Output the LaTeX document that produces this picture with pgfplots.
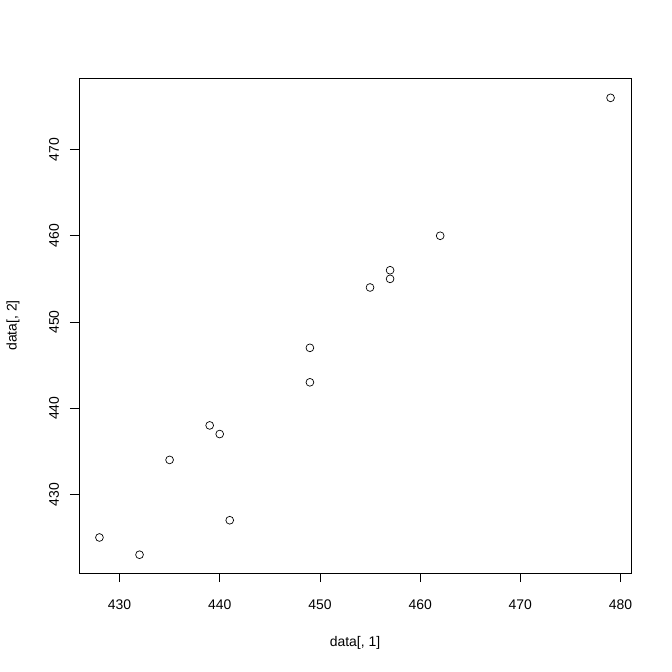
\documentclass[border=0pt]{standalone}
\usepackage{pgfplots}
\pgfplotsset{compat=1.18}
\usepackage{fontspec}
\setmainfont{Liberation Sans}
\begin{document}
\begin{tikzpicture}
\begin{axis}[
  scale only axis,
  width=552bp, height=495bp,
  xmin=425.96, xmax=481.04,
  ymin=420.88, ymax=478.3,
  xtick={430,440,...,480},
  ytick={430,440,...,470},
  tick align=outside,
  major tick length=9bp,
  tick style={black, line width=0.6bp},
  axis line style={line width=0.6bp},
  xtick pos=bottom, ytick pos=left,
  /pgf/number format/assume math mode=true,
  /pgf/number format/1000 sep={},
  ticklabel style={font=\fontsize{14}{16}\selectfont},
  xticklabel style={yshift=-14bp},
  yticklabel style={rotate=90, anchor=south, yshift=7.5bp},
  xlabel={data[, 1]}, ylabel={data[, 2]},
  label style={font=\fontsize{14}{16}\selectfont},
  xlabel style={at={(axis description cs:0.5,0)}, anchor=center, yshift=-70bp},
  ylabel style={at={(axis description cs:0,0.5)}, anchor=center, yshift=66bp},
]
\addplot[only marks, mark=o, mark size=3.9bp, mark options={line width=0.7bp, black}] coordinates {
(428,425) (432,423) (435,434) (439,438) (440,437) (441,427)
(449,447) (449,443) (455,454) (457,456) (457,455) (462,460) (479,476)
};
\end{axis}
\path[use as bounding box] ([xshift=-79bp,yshift=-99bp]current axis.south west) rectangle ([xshift=41bp,yshift=78bp]current axis.north east);
\end{tikzpicture}
\end{document}
